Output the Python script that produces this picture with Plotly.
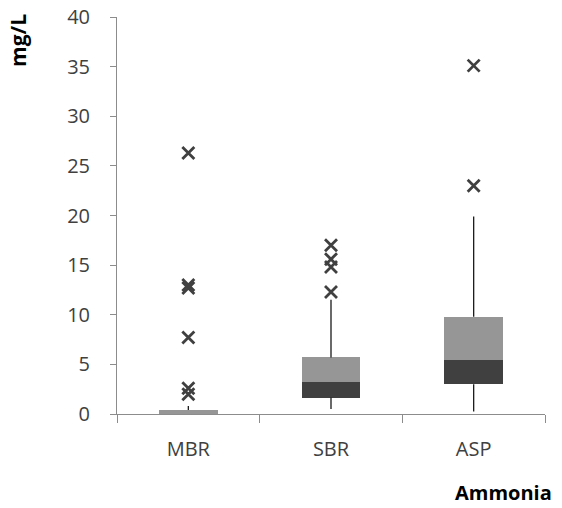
import plotly.graph_objects as go

categories = ["MBR", "SBR", "ASP"]
q1 = [0.0, 1.65, 3.0]
median = [0.0, 3.2, 5.4]
q3 = [0.4, 5.7, 9.8]
whisker_low = [0.0, 0.5, 0.25]
whisker_high = [0.8, 11.5, 19.9]
outlier_cats = ["MBR", "MBR", "MBR", "MBR", "MBR", "MBR",
                "SBR", "SBR", "SBR", "SBR",
                "ASP", "ASP"]
outlier_vals = [26.3, 13.0, 12.7, 7.7, 2.6, 2.0,
                12.3, 14.8, 15.6, 17.0,
                23.0, 35.1]

DARK = "#404040"
LIGHT = "#969696"
AXIS = "#8c8c8c"
FONT = "Open Sans"

fig = go.Figure()

# lower box (Q1 -> median)
fig.add_trace(go.Bar(
    x=categories, y=[m - a for m, a in zip(median, q1)], base=q1,
    width=0.41, marker=dict(color=DARK, line=dict(width=0)), showlegend=False,
    hoverinfo="skip"))
# upper box (median -> Q3)
fig.add_trace(go.Bar(
    x=categories, y=[b - m for b, m in zip(q3, median)], base=median,
    width=0.41, marker=dict(color=LIGHT, line=dict(width=0)), showlegend=False,
    hoverinfo="skip"))

# whiskers
wx, wy = [], []
for c, lo, a, b, hi in zip(categories, whisker_low, q1, q3, whisker_high):
    if a > lo:
        wx += [c, c, None]
        wy += [lo, a, None]
    if hi > b:
        wx += [c, c, None]
        wy += [b, hi, None]
fig.add_trace(go.Scatter(x=wx, y=wy, mode="lines",
                         line=dict(color="#1a1a1a", width=1.3),
                         showlegend=False, hoverinfo="skip"))

# outliers
fig.add_trace(go.Scatter(x=outlier_cats, y=outlier_vals, mode="markers",
                         marker=dict(symbol="x-thin", size=12,
                                     line=dict(color=DARK, width=2.8)),
                         showlegend=False))

fig.update_layout(
    width=562, height=508,
    margin=dict(l=117, r=17, t=17, b=94),
    plot_bgcolor="white", paper_bgcolor="white",
    barmode="overlay", bargap=0,
    font=dict(family=FONT, size=20, color="#404040"),
    xaxis=dict(type="category", categoryorder="array", categoryarray=categories,
               range=[-0.5, 2.5], showline=True, linecolor=AXIS, linewidth=1,
               ticks="outside", tickson="boundaries", ticklen=8, tickcolor=AXIS,
               showgrid=False, zeroline=False, ticklabelstandoff=17,
               automargin=False, ticklabeloverflow="allow",
               tickfont=dict(family=FONT, size=20, color="#404040")),
    yaxis=dict(range=[0, 40], dtick=5, showline=True, linecolor=AXIS, linewidth=1,
               ticks="outside", ticklen=6, tickcolor=AXIS, showgrid=False,
               zeroline=False, ticklabelstandoff=16, automargin=False,
               ticklabeloverflow="allow",
               tickfont=dict(family=FONT, size=20, color="#404040")),
    annotations=[
        dict(text="<b>mg/L</b>", xref="paper", yref="paper", x=-0.231, y=0.94,
             xanchor="center", yanchor="middle", textangle=-90, showarrow=False,
             font=dict(family=FONT, size=21, color="black")),
        dict(text="<b>Ammonia</b>", xref="paper", yref="paper", x=0.903, y=-0.198,
             xanchor="center", yanchor="middle", showarrow=False, borderpad=0,
             font=dict(family=FONT, size=20, color="black")),
    ],
)

fig.write_html("out.html", config={"displayModeBar": False},
               post_script="document.body.style.margin='0';document.body.style.overflow='hidden';")
